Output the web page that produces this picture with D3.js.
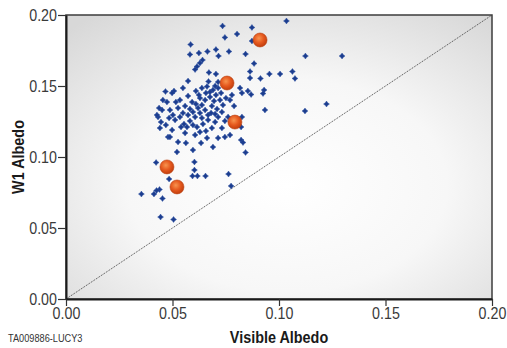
<!DOCTYPE html>
<html>
<head>
<meta charset="utf-8">
<script src="https://cdn.jsdelivr.net/npm/d3@7"></script>
<style>
  html, body { margin: 0; padding: 0; background: #fff; }
  svg { display: block; font-family: "Liberation Sans", Arial, sans-serif; }
</style>
</head>
<body>
<svg id="chart" width="507" height="348"></svg>
<script>
// Visible albedo vs W1 albedo, blue = catalogue objects, orange = highlighted targets
const blueVisible = [
  0.1035, 0.0735, 0.0873, 0.0803, 0.0746, 0.0873, 0.0585, 0.0624, 0.0582, 0.0664,
  0.0704, 0.0716, 0.0765, 0.0843, 0.1124, 0.1296, 0.0641, 0.0629, 0.0615, 0.0606,
  0.0883, 0.0671, 0.0704, 0.0864, 0.0864, 0.0913, 0.0955, 0.1005, 0.1063, 0.1075,
  0.0573, 0.0669, 0.0714, 0.0507, 0.0549, 0.0610, 0.0638, 0.0662, 0.0690, 0.0714,
  0.0728, 0.0704, 0.0676, 0.0653, 0.0629, 0.0592, 0.0535, 0.0498, 0.0474, 0.0451,
  0.0432, 0.0446, 0.0484, 0.0512, 0.0535, 0.0549, 0.0573, 0.0596, 0.0620, 0.0638,
  0.0653, 0.0667, 0.0638, 0.0685, 0.0709, 0.0737, 0.0770, 0.0779, 0.0732, 0.0714,
  0.0700, 0.0685, 0.0667, 0.0596, 0.0615, 0.0568, 0.0498, 0.0479, 0.0606, 0.0662,
  0.0714, 0.0746, 0.0770, 0.0690, 0.0521, 0.0596, 0.0817, 0.0826, 0.0854, 0.0869,
  0.0930, 0.0925, 0.0934, 0.1122, 0.1223, 0.0826, 0.0822, 0.0822, 0.0831, 0.0843,
  0.0437, 0.0427, 0.0467, 0.0441, 0.0488, 0.0526, 0.0700, 0.0676, 0.0657, 0.0624,
  0.0573, 0.0559, 0.0526, 0.0606, 0.0582, 0.0554, 0.0643, 0.0681, 0.0751, 0.0761,
  0.0789, 0.0559, 0.0629, 0.0455, 0.0488, 0.0516, 0.0732, 0.0563, 0.0634, 0.0423,
  0.0603, 0.0603, 0.0594, 0.0617, 0.0655, 0.0763, 0.0775, 0.0484, 0.0439, 0.0425,
  0.0413, 0.0354, 0.0453, 0.0444, 0.0505, 0.0610, 0.0695, 0.0723, 0.0582, 0.0629,
  0.0700, 0.0746, 0.0540, 0.0657, 0.0469, 0.0502
];
const blueW1 = [
  0.1958, 0.1923, 0.1912, 0.1866, 0.1842, 0.1817, 0.1792, 0.1732, 0.1722, 0.1743,
  0.1757, 0.1711, 0.1743, 0.1725, 0.1711, 0.1711, 0.1683, 0.1662, 0.1637, 0.1616,
  0.1658, 0.1595, 0.1585, 0.1602, 0.1556, 0.1553, 0.1585, 0.1585, 0.1602, 0.1553,
  0.1535, 0.1532, 0.1528, 0.1465, 0.1486, 0.1465, 0.1486, 0.1496, 0.1472, 0.1486,
  0.1451, 0.1437, 0.1423, 0.1401, 0.1415, 0.1387, 0.1401, 0.1451, 0.1387, 0.1331,
  0.1282, 0.1246, 0.1275, 0.1261, 0.1282, 0.1310, 0.1296, 0.1317, 0.1345, 0.1366,
  0.1331, 0.1296, 0.1275, 0.1359, 0.1338, 0.1366, 0.1401, 0.1437, 0.1317, 0.1282,
  0.1246, 0.1204, 0.1261, 0.1225, 0.1211, 0.1211, 0.1190, 0.1141, 0.1155, 0.1134,
  0.1134, 0.1141, 0.1155, 0.1070, 0.1035, 0.1049, 0.1486, 0.1451, 0.1465, 0.1440,
  0.1472, 0.1447, 0.1331, 0.1324, 0.1373, 0.1282, 0.1211, 0.1120, 0.1102, 0.1032,
  0.1345, 0.1296, 0.1461, 0.1204, 0.1141, 0.1106, 0.1500, 0.1458, 0.1451, 0.1437,
  0.1430, 0.1359, 0.1345, 0.1282, 0.1254, 0.1232, 0.1232, 0.1310, 0.1415, 0.1282,
  0.1359, 0.1169, 0.1176, 0.1401, 0.1331, 0.1387, 0.1204, 0.1099, 0.1099, 0.0961,
  0.0965, 0.0908, 0.0866, 0.0866, 0.0866, 0.0880, 0.0796, 0.0845, 0.0771, 0.0764,
  0.0739, 0.0739, 0.0708, 0.0577, 0.0560, 0.1373, 0.1394, 0.1401, 0.1338, 0.1310,
  0.1303, 0.1254, 0.1211, 0.1183, 0.1225, 0.1296
];
const orangeVisible = [0.0911, 0.0756, 0.0793, 0.0474, 0.0521];
const orangeW1 = [0.1824, 0.1521, 0.1246, 0.0930, 0.0789];
const xTicks = [0.00, 0.05, 0.10, 0.15, 0.20];
const yTicks = [0.00, 0.05, 0.10, 0.15, 0.20];
const xLabel = 'Visible Albedo';
const yLabel = 'W1 Albedo';
const footNote = 'TA009886-LUCY3';

const config = {
  margins: { left: 66, top: 15, right: 15, bottom: 49 },
  narrow: 0.84
};

const svg = d3.select('#chart');
const width = +svg.attr('width');
const height = +svg.attr('height');
const m = config.margins;
const innerW = width - m.left - m.right;
const innerH = height - m.top - m.bottom;

const x = d3.scaleLinear().domain([0, 0.2]).range([m.left, m.left + innerW]);
const y = d3.scaleLinear().domain([0, 0.2]).range([m.top + innerH, m.top]);

const defs = svg.append('defs');
const bg = defs.append('radialGradient')
  .attr('id', 'bg')
  .attr('cx', '52%').attr('cy', '60%').attr('r', '75%');
bg.append('stop').attr('offset', '0%').attr('stop-color', '#ffffff');
bg.append('stop').attr('offset', '50%').attr('stop-color', '#f7f7f7');
bg.append('stop').attr('offset', '100%').attr('stop-color', '#d8d8d8');

const ball = defs.append('radialGradient')
  .attr('id', 'ball')
  .attr('cx', '42%').attr('cy', '38%').attr('r', '60%');
ball.append('stop').attr('offset', '0%').attr('stop-color', '#f7944f');
ball.append('stop').attr('offset', '55%').attr('stop-color', '#e65a1f');
ball.append('stop').attr('offset', '100%').attr('stop-color', '#c5400e');

// plot background
svg.append('rect')
  .attr('x', m.left).attr('y', m.top)
  .attr('width', innerW).attr('height', innerH)
  .attr('fill', 'url(#bg)')
  .attr('stroke', '#3c3c3c')
  .attr('stroke-width', 1.5);

// 1:1 line
svg.append('line')
  .attr('x1', x(0)).attr('y1', y(0))
  .attr('x2', x(0.2)).attr('y2', y(0.2))
  .attr('stroke', '#444')
  .attr('stroke-width', 1)
  .attr('stroke-dasharray', '1,1');

// blue points
const star = {
  draw(ctx, size) {
    const r = Math.sqrt(size) / 1.4;
    const w = r * 0.42;
    ctx.moveTo(0, -r);
    ctx.lineTo(w, -w);
    ctx.lineTo(r, 0);
    ctx.lineTo(w, w);
    ctx.lineTo(0, r);
    ctx.lineTo(-w, w);
    ctx.lineTo(-r, 0);
    ctx.lineTo(-w, -w);
    ctx.closePath();
  }
};
const blueData = blueVisible.map((v, i) => ({ v: v, w: blueW1[i] }));
svg.append('g').selectAll('path')
  .data(blueData)
  .join('path')
  .attr('transform', d => `translate(${x(d.v)},${y(d.w)})`)
  .attr('d', d3.symbol().type(star).size(17))
  .attr('fill', '#1c3d8f')
  .attr('stroke', '#2f52a3')
  .attr('stroke-width', 0.5);

// orange targets
const orangeData = orangeVisible.map((v, i) => ({ v: v, w: orangeW1[i] }));
svg.append('g').selectAll('circle')
  .data(orangeData)
  .join('circle')
  .attr('cx', d => x(d.v))
  .attr('cy', d => y(d.w))
  .attr('r', 7)
  .attr('fill', 'url(#ball)')
  .attr('stroke', '#b8400f')
  .attr('stroke-width', 0.6);

// axes
const fmt = d3.format('.2f');
const xAxis = svg.append('g')
  .attr('transform', `translate(0,${m.top + innerH})`)
  .call(d3.axisBottom(x).tickValues(xTicks).tickFormat(fmt).tickSize(7).tickSizeOuter(0));
const yAxis = svg.append('g')
  .attr('transform', `translate(${m.left},0)`)
  .call(d3.axisLeft(y).tickValues(yTicks).tickFormat(fmt).tickSize(8).tickSizeOuter(0));

[xAxis, yAxis].forEach(ax => {
  ax.select('.domain').attr('stroke', '#1a1a1a').attr('stroke-width', 2);
  ax.selectAll('.tick line').attr('stroke', '#333').attr('stroke-width', 1.2);
  ax.selectAll('.tick text')
    .attr('fill', '#3a3a3a')
    .style('font-size', '17px')
    .style('font-family', '"Liberation Sans", Arial, sans-serif');
});
xAxis.selectAll('.tick text')
  .attr('y', 8)
  .attr('transform', `scale(${config.narrow},1)`);
yAxis.selectAll('.tick text')
  .attr('x', -9 / config.narrow)
  .attr('transform', `scale(${config.narrow},1)`);

// axis titles
svg.append('text')
  .attr('transform', `translate(${m.left + innerW / 2},${height - 5}) scale(0.9,1)`)
  .attr('text-anchor', 'middle')
  .style('font-size', '16px')
  .style('font-weight', 'bold')
  .attr('fill', '#1a1a1a')
  .text(xLabel);

svg.append('text')
  .attr('transform', `translate(${24},${m.top + innerH / 2}) rotate(-90) scale(0.9,1)`)
  .attr('text-anchor', 'middle')
  .style('font-size', '16px')
  .style('font-weight', 'bold')
  .attr('fill', '#1a1a1a')
  .text(yLabel);

svg.append('text')
  .attr('transform', `translate(8,${height - 6}) scale(0.8,1)`)
  .style('font-size', '11.5px')
  .attr('fill', '#333')
  .text(footNote);
</script>
</body>
</html>
